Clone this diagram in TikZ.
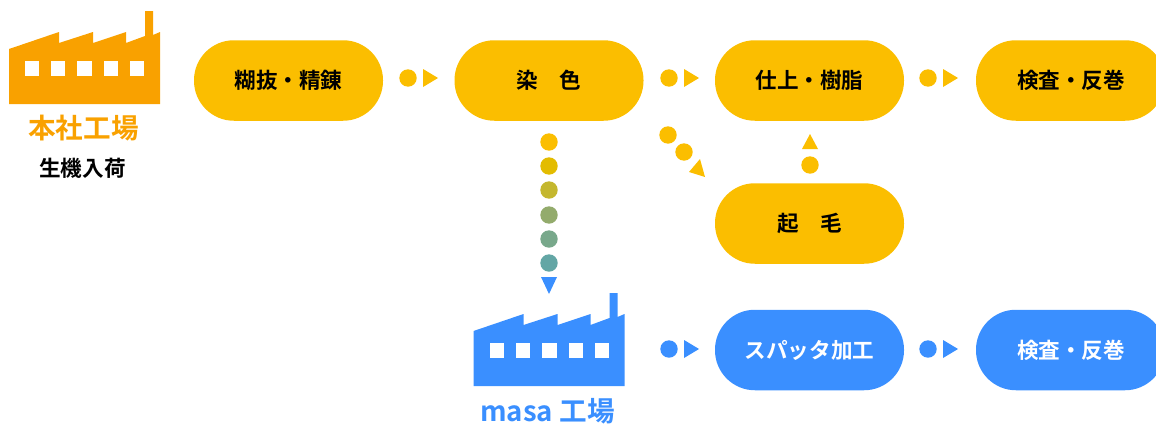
\documentclass[tikz,border=0pt]{standalone}
\usepackage{fontspec}
\setmainfont{Noto Sans CJK JP}[BoldFont={Noto Sans CJK JP Bold}]
\definecolor{amber}{HTML}{FBBE00}
\definecolor{sky}{HTML}{3A8FFF}
\definecolor{factoryorange}{HTML}{F9A100}
\tikzset{
 procbox/.style={draw=none,fill=#1,rounded corners=39.9pt,minimum width=189pt,minimum height=80.5pt,inner sep=0pt,
   font=\fontsize{21.6}{21.6}\selectfont\bfseries,text=black},
 dotmark/.style={circle,fill=#1,minimum size=17.4pt,inner sep=0pt,draw=none},
 arrowtri/.style={fill=#1,draw=none},
 txtlabel/.style={inner sep=0pt,font=\fontsize{#1}{#1}\selectfont\bfseries}
}
\newcommand{\factory}[3]{%
 \begin{scope}[shift={(#1,#2)}]
 \fill[#3] (9,49)--(59,32)--(59,43)--(93,32)--(93,43)--(126,32)--(126,43)--(145,36)--(145,11)--(153,11)--(153,35)--(160,32)--(160,104)--(9,104)--cycle;
 \foreach \a/\b in {25/39,51/65,77/92,104/118,130/144}{\fill[white] (\a,61) rectangle (\b,76);}
 \end{scope}}
\begin{document}
\begin{tikzpicture}[x=1pt,y=-1pt]
\useasboundingbox (0,0) rectangle (1156,423);
\begin{scope}
\clip (0,0) rectangle (1156,423);
\factory{0}{0}{factoryorange}
\factory{464.5}{282}{sky}
\node[txtlabel=27.6,text=factoryorange] (honsha) at (83.5,128.5) {本社工場};
\node[txtlabel=21.6,text=black] (kiki) at (82.5,168) {生機入荷};
\node[txtlabel=27.6,text=sky] (masa) at (547.5,411) {masa 工場};
\node[procbox=amber] (p1) at (288.5,80.5) {糊抜・精錬};
\node[procbox=amber] (p2) at (549,80.5) {染　色};
\node[procbox=amber] (p3) at (809.5,80.5) {仕上・樹脂};
\node[procbox=amber] (p4) at (1070.5,80.5) {};
\node[procbox=amber] (p5) at (809.5,223.5) {起　毛};
\node[procbox=sky,text=white] (b1) at (809.5,350) {スパッタ加工};
\node[procbox=sky,text=white] (b2) at (1070.5,350) {};
\end{scope}
\node[txtlabel=21.6,text=black] (p4t) at (1071,80.5) {検査・反巻};
\node[txtlabel=21.6,text=white] (b2t) at (1071,350) {検査・反巻};
% horizontal connectors
\foreach \n/\x/\y/\c in {a/408/78/amber,b/669/78/amber,c/928/78/amber,d/669/349/sky,e/928/349/sky}{
 \node[dotmark=\c] (dot\n) at (\x,\y) {};
 \fill[arrowtri=\c] (\x+15,\y-9)--(\x+30,\y)--(\x+15,\y+9)--cycle;
}
% diagonal
\node[dotmark=amber] (dg1) at (668,135) {};
\node[dotmark=amber] (dg2) at (684,152) {};
\fill[arrowtri=amber] (700,159)--(705,177)--(689,172)--cycle;
% up
\node[dotmark=amber] (up1) at (810,165) {};
\fill[arrowtri=amber] (810,134)--(818,149)--(802,149)--cycle;
% vertical
\definecolor{v1}{HTML}{FBBE00}\definecolor{v2}{HTML}{E3BC00}\definecolor{v3}{HTML}{C4B72E}
\definecolor{v4}{HTML}{93AB6C}\definecolor{v5}{HTML}{78A88B}\definecolor{v6}{HTML}{63A6A5}
\foreach \i/\y in {1/142,2/166,3/190,4/215,5/239,6/263}{
 \node[dotmark=v\i] (vd\i) at (549,\y) {};
}
\fill[arrowtri=sky] (541,277)--(557,277)--(549,294)--cycle;
\end{tikzpicture}
\end{document}
